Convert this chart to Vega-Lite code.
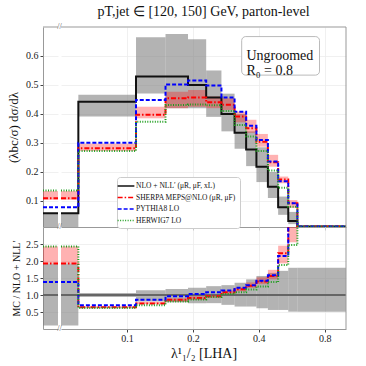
{
"$schema": "https://vega.github.io/schema/vega-lite/v6.json",
"padding": {"left": 7, "top": 5, "right": 5, "bottom": 4},
"datasets": {
"one": [{}],
"main": [
{"lo":0,"hi":0.06,"nlo":0.0575,"nlo_lo":0.005,"nlo_hi":0.058,"sh":0.109,"sh_lo":0.104,"sh_hi":0.134,"py":0.078,"hw":0.136},
{"lo":0.06,"hi":0.11,"nlo":0.442,"nlo_lo":0.391,"nlo_hi":0.466,"sh":0.282,"sh_lo":0.272,"sh_hi":0.297,"py":0.301,"hw":0.272},
{"lo":0.11,"hi":0.15,"nlo":0.529,"nlo_lo":0.471,"nlo_hi":0.665,"sh":0.397,"sh_lo":0.385,"sh_hi":0.425,"py":0.448,"hw":0.373},
{"lo":0.15,"hi":0.19,"nlo":0.529,"nlo_lo":0.42,"nlo_hi":0.676,"sh":0.454,"sh_lo":0.42,"sh_hi":0.477,"py":0.502,"hw":0.431},
{"lo":0.19,"hi":0.23,"nlo":0.5,"nlo_lo":0.42,"nlo_hi":0.658,"sh":0.457,"sh_lo":0.425,"sh_hi":0.483,"py":0.515,"hw":0.433},
{"lo":0.23,"hi":0.27,"nlo":0.457,"nlo_lo":0.39,"nlo_hi":0.55,"sh":0.44,"sh_lo":0.42,"sh_hi":0.46,"py":0.498,"hw":0.43},
{"lo":0.27,"hi":0.31,"nlo":0.4,"nlo_lo":0.34,"nlo_hi":0.47,"sh":0.432,"sh_lo":0.414,"sh_hi":0.454,"py":0.457,"hw":0.41},
{"lo":0.31,"hi":0.35,"nlo":0.335,"nlo_lo":0.28,"nlo_hi":0.4,"sh":0.391,"sh_lo":0.371,"sh_hi":0.408,"py":0.408,"hw":0.362},
{"lo":0.35,"hi":0.39,"nlo":0.277,"nlo_lo":0.22,"nlo_hi":0.34,"sh":0.351,"sh_lo":0.335,"sh_hi":0.38,"py":0.359,"hw":0.322},
{"lo":0.39,"hi":0.44,"nlo":0.218,"nlo_lo":0.165,"nlo_hi":0.285,"sh":0.304,"sh_lo":0.287,"sh_hi":0.331,"py":0.31,"hw":0.272},
{"lo":0.44,"hi":0.49,"nlo":0.149,"nlo_lo":0.11,"nlo_hi":0.2,"sh":0.233,"sh_lo":0.218,"sh_hi":0.259,"py":0.236,"hw":0.205},
{"lo":0.49,"hi":0.545,"nlo":0.078,"nlo_lo":0.052,"nlo_hi":0.115,"sh":0.174,"sh_lo":0.161,"sh_hi":0.184,"py":0.168,"hw":0.145},
{"lo":0.545,"hi":0.6,"nlo":0.031,"nlo_lo":0.02,"nlo_hi":0.062,"sh":0.092,"sh_lo":0.076,"sh_hi":0.103,"py":0.092,"hw":0.08},
{"lo":0.6,"hi":1.0,"nlo":0.012,"nlo_lo":0.012,"nlo_hi":0.012,"sh":0.012,"sh_lo":0.012,"sh_hi":0.012,"py":0.012,"hw":0.012},
{"lo":1.0,"hi":1.0,"nlo":0.012,"nlo_lo":0.012,"nlo_hi":0.012,"sh":0.012,"sh_lo":0.012,"sh_hi":0.012,"py":0.012,"hw":0.012}
],
"ratio": [
{"lo":0,"hi":0.06,"nlo_lo":0.1,"nlo_hi":1.93,"sh":1.93,"sh_lo":1.93,"sh_hi":2.43,"py":1.38,"hw":2.43},
{"lo":0.06,"hi":0.11,"nlo_lo":0.94,"nlo_hi":1.06,"sh":0.64,"sh_lo":0.62,"sh_hi":0.67,"py":0.7,"hw":0.615},
{"lo":0.11,"hi":0.15,"nlo_lo":0.81,"nlo_hi":1.14,"sh":0.75,"sh_lo":0.73,"sh_hi":0.8,"py":0.86,"hw":0.7},
{"lo":0.15,"hi":0.19,"nlo_lo":0.79,"nlo_hi":1.18,"sh":0.86,"sh_lo":0.8,"sh_hi":0.9,"py":0.96,"hw":0.81},
{"lo":0.19,"hi":0.23,"nlo_lo":0.76,"nlo_hi":1.21,"sh":0.91,"sh_lo":0.85,"sh_hi":0.96,"py":1.03,"hw":0.87},
{"lo":0.23,"hi":0.27,"nlo_lo":0.76,"nlo_hi":1.26,"sh":0.96,"sh_lo":0.92,"sh_hi":1.01,"py":1.08,"hw":0.94},
{"lo":0.27,"hi":0.31,"nlo_lo":0.71,"nlo_hi":1.29,"sh":1.08,"sh_lo":1.03,"sh_hi":1.13,"py":1.13,"hw":1.03},
{"lo":0.31,"hi":0.35,"nlo_lo":0.66,"nlo_hi":1.36,"sh":1.17,"sh_lo":1.11,"sh_hi":1.22,"py":1.21,"hw":1.08},
{"lo":0.35,"hi":0.39,"nlo_lo":0.66,"nlo_hi":1.46,"sh":1.27,"sh_lo":1.21,"sh_hi":1.37,"py":1.29,"hw":1.16},
{"lo":0.39,"hi":0.44,"nlo_lo":0.61,"nlo_hi":1.56,"sh":1.4,"sh_lo":1.32,"sh_hi":1.52,"py":1.42,"hw":1.25},
{"lo":0.44,"hi":0.49,"nlo_lo":0.56,"nlo_hi":1.65,"sh":1.56,"sh_lo":1.46,"sh_hi":1.74,"py":1.58,"hw":1.38},
{"lo":0.49,"hi":0.545,"nlo_lo":0.56,"nlo_hi":1.71,"sh":2.23,"sh_lo":1.93,"sh_hi":2.45,"py":2.15,"hw":1.88},
{"lo":0.545,"hi":0.6,"nlo_lo":0.51,"nlo_hi":1.8,"sh":3.1,"sh_lo":2.55,"sh_hi":3.3,"py":3.1,"hw":2.47},
{"lo":0.6,"hi":1.0,"nlo_lo":0.51,"nlo_hi":1.8,"sh":5,"sh_lo":5,"sh_hi":5,"py":5,"hw":5},
{"lo":1.0,"hi":1.0,"nlo_lo":0.51,"nlo_hi":1.8,"sh":5,"sh_lo":5,"sh_hi":5,"py":5,"hw":5}
]
},
"bounds": "flush",
"columns": 2,
"spacing": {"row": 0, "column": 3},
"concat": [
 {"width": 15, "height": 200, "data": {"name": "main"},
  "layer": [
   {"mark": {"type": "rect", "fill": "#808080", "opacity": 0.6, "clip": true},
    "encoding": {
     "x": {"field": "lo", "type": "quantitative", "scale": {"domain": [0, 0.05], "nice": false, "zero": false}, "axis": {"labels": false, "ticks": false, "grid": false, "domain": true, "title": null}},
     "x2": {"field": "hi"},
     "y": {"field": "nlo_lo", "type": "quantitative", "scale": {"domain": [0.01, 0.7], "nice": false, "zero": false}, "axis": {"values": [0.1,0.2,0.3,0.4,0.5,0.6], "tickCount": 20, "format": ".1f", "title": "(λbc/σ) dσ/dλ", "titleFontSize": 13, "titlePadding": 5, "grid": true}},
     "y2": {"field": "nlo_hi"}}},
   {"mark": {"type": "rect", "fill": "red", "opacity": 0.3, "clip": true},
    "encoding": {
     "x": {"field": "lo", "type": "quantitative", "scale": {"domain": [0, 0.05], "nice": false, "zero": false}},
     "x2": {"field": "hi"},
     "y": {"field": "sh_lo", "type": "quantitative", "scale": {"domain": [0.01, 0.7], "nice": false, "zero": false}},
     "y2": {"field": "sh_hi"}}},
   {"transform": [{"fold": ["nlo","sh","py","hw"], "as": ["series","v"]}],
    "mark": {"type": "line", "interpolate": "step-after", "clip": true},
    "encoding": {
     "x": {"field": "lo", "type": "quantitative", "scale": {"domain": [0, 0.05], "nice": false, "zero": false}},
     "y": {"field": "v", "type": "quantitative", "scale": {"domain": [0.01, 0.7], "nice": false, "zero": false}},
     "color": {"field": "series", "type": "nominal", "scale": {"domain": ["nlo","sh","py","hw"], "range": ["#111111","#ff0000","#0000ff","#1f9e1f"]}, "legend": {"title": null, "orient": "none", "legendX": 74, "legendY": 150, "labelExpr": "datum.label == 'nlo' ? 'NLO + NLL′ (μR, μF, xL)' : datum.label == 'sh' ? 'SHERPA MEPS@NLO (μR, μF)' : datum.label == 'py' ? 'PYTHIA8 LO' : 'HERWIG7 LO'"}},
     "strokeDash": {"field": "series", "type": "nominal", "scale": {"domain": ["nlo","sh","py","hw"], "range": [[1,0],[5,2,1.5,2],[4,2],[1,1.5]]}, "legend": {"title": null, "orient": "none", "legendX": 74, "legendY": 150, "labelExpr": "datum.label == 'nlo' ? 'NLO + NLL′ (μR, μF, xL)' : datum.label == 'sh' ? 'SHERPA MEPS@NLO (μR, μF)' : datum.label == 'py' ? 'PYTHIA8 LO' : 'HERWIG7 LO'"}}}},
   {"data": {"name": "one"}, "mark": {"type": "rule", "color": "#999999"}, "encoding": {"y": {"datum": 0.7}}}
  ]},
 {"width": 285, "height": 200, "data": {"name": "main"},
  "title": {"text": "pT,jet ∈ [120, 150] GeV, parton-level", "fontSize": 14, "fontWeight": "normal", "font": "Liberation Serif", "anchor": "middle", "offset": 4, "color": "#111111"},
  "layer": [
   {"mark": {"type": "rect", "fill": "#808080", "opacity": 0.6, "clip": true},
    "encoding": {
     "x": {"field": "lo", "type": "quantitative", "scale": {"type": "log", "domain": [0.05, 1], "nice": false, "clamp": true}, "axis": {"labels": false, "ticks": true, "values": [0.1,0.2,0.4,0.8], "tickCount": 20, "grid": true, "domain": true, "title": null}},
     "x2": {"field": "hi"},
     "y": {"field": "nlo_lo", "type": "quantitative", "scale": {"domain": [0.01, 0.7], "nice": false, "zero": false}, "axis": {"labels": false, "ticks": false, "domain": false, "grid": true, "values": [0.1,0.2,0.3,0.4,0.5,0.6], "tickCount": 20, "title": null}},
     "y2": {"field": "nlo_hi"}}},
   {"mark": {"type": "rect", "fill": "red", "opacity": 0.3, "clip": true},
    "encoding": {
     "x": {"field": "lo", "type": "quantitative", "scale": {"type": "log", "domain": [0.05, 1], "nice": false, "clamp": true}},
     "x2": {"field": "hi"},
     "y": {"field": "sh_lo", "type": "quantitative", "scale": {"domain": [0.01, 0.7], "nice": false, "zero": false}},
     "y2": {"field": "sh_hi"}}},
   {"transform": [{"fold": ["nlo","sh","py","hw"], "as": ["series","v"]}],
    "mark": {"type": "line", "interpolate": "step-after", "clip": true},
    "encoding": {
     "x": {"field": "lo", "type": "quantitative", "scale": {"type": "log", "domain": [0.05, 1], "nice": false, "clamp": true}},
     "y": {"field": "v", "type": "quantitative", "scale": {"domain": [0.01, 0.7], "nice": false, "zero": false}},
     "color": {"field": "series", "type": "nominal", "scale": {"domain": ["nlo","sh","py","hw"], "range": ["#111111","#ff0000","#0000ff","#1f9e1f"]}, "legend": {"title": null, "orient": "none", "legendX": 74, "legendY": 150, "labelExpr": "datum.label == 'nlo' ? 'NLO + NLL′ (μR, μF, xL)' : datum.label == 'sh' ? 'SHERPA MEPS@NLO (μR, μF)' : datum.label == 'py' ? 'PYTHIA8 LO' : 'HERWIG7 LO'"}},
     "strokeDash": {"field": "series", "type": "nominal", "scale": {"domain": ["nlo","sh","py","hw"], "range": [[1,0],[5,2,1.5,2],[4,2],[1,1.5]]}, "legend": {"title": null, "orient": "none", "legendX": 74, "legendY": 150, "labelExpr": "datum.label == 'nlo' ? 'NLO + NLL′ (μR, μF, xL)' : datum.label == 'sh' ? 'SHERPA MEPS@NLO (μR, μF)' : datum.label == 'py' ? 'PYTHIA8 LO' : 'HERWIG7 LO'"}}}},
   {"data": {"name": "one"}, "mark": {"type": "rule", "color": "#999999"}, "encoding": {"y": {"datum": 0.7}}},
   {"data": {"name": "one"}, "mark": {"type": "rule", "color": "#999999"}, "encoding": {"x": {"datum": 1.0}}},
   {"data": {"name": "one"}, "mark": {"type": "rect", "fill": "white", "stroke": "#aaaaaa", "strokeWidth": 0.8, "cornerRadius": 4},
    "encoding": {"x": {"datum": 0.334}, "x2": {"datum": 0.757}, "y": {"datum": 0.667}, "y2": {"datum": 0.534}}},
   {"data": {"name": "one"}, "mark": {"type": "text", "text": ["Ungroomed", "R₀ = 0.8"], "align": "left", "baseline": "middle", "fontSize": 14, "lineHeight": 15, "font": "Liberation Serif", "fontWeight": "normal", "color": "#111111"},
    "encoding": {"x": {"datum": 0.351}, "y": {"datum": 0.6}}},
   {"data": {"name": "one"}, "mark": {"type": "text", "text": "//", "fontSize": 8, "dx": -1.5, "color": "#555555", "clip": false},
    "encoding": {"x": {"datum": 0.05}, "y": {"datum": 0.7}}},
   {"data": {"name": "one"}, "mark": {"type": "text", "text": "//", "fontSize": 8, "dx": -1.5, "color": "#555555", "clip": false},
    "encoding": {"x": {"datum": 0.05}, "y": {"datum": 0.01}}}
  ]},
 {"width": 15, "height": 102, "data": {"name": "ratio"},
  "layer": [
   {"mark": {"type": "rect", "fill": "#808080", "opacity": 0.6, "clip": true},
    "encoding": {
     "x": {"field": "lo", "type": "quantitative", "scale": {"domain": [0, 0.05], "nice": false, "zero": false}, "axis": {"labels": false, "ticks": false, "grid": false, "domain": true, "title": null}},
     "x2": {"field": "hi"},
     "y": {"field": "nlo_lo", "type": "quantitative", "scale": {"domain": [0, 3], "nice": false, "zero": false}, "axis": {"values": [0.5,1,1.5,2,2.5], "tickCount": 20, "format": ".1f", "title": "MC / NLO + NLL′", "titleFontSize": 10, "titlePadding": 4, "grid": true}},
     "y2": {"field": "nlo_hi"}}},
   {"mark": {"type": "rect", "fill": "red", "opacity": 0.3, "clip": true},
    "encoding": {
     "x": {"field": "lo", "type": "quantitative", "scale": {"domain": [0, 0.05], "nice": false, "zero": false}},
     "x2": {"field": "hi"},
     "y": {"field": "sh_lo", "type": "quantitative", "scale": {"domain": [0, 3], "nice": false, "zero": false}},
     "y2": {"field": "sh_hi"}}},
   {"data": {"name": "one"}, "mark": {"type": "rule", "color": "#666666", "strokeWidth": 2}, "encoding": {"y": {"datum": 1}}},
   {"transform": [{"fold": ["sh","py","hw"], "as": ["series","v"]}],
    "mark": {"type": "line", "interpolate": "step-after", "clip": true},
    "encoding": {
     "x": {"field": "lo", "type": "quantitative", "scale": {"domain": [0, 0.05], "nice": false, "zero": false}},
     "y": {"field": "v", "type": "quantitative", "scale": {"domain": [0, 3], "nice": false, "zero": false}},
     "color": {"field": "series", "type": "nominal", "scale": {"domain": ["nlo","sh","py","hw"], "range": ["#111111","#ff0000","#0000ff","#1f9e1f"]}, "legend": {"title": null, "orient": "none", "legendX": 74, "legendY": 150, "labelExpr": "datum.label == 'nlo' ? 'NLO + NLL′ (μR, μF, xL)' : datum.label == 'sh' ? 'SHERPA MEPS@NLO (μR, μF)' : datum.label == 'py' ? 'PYTHIA8 LO' : 'HERWIG7 LO'"}},
     "strokeDash": {"field": "series", "type": "nominal", "scale": {"domain": ["nlo","sh","py","hw"], "range": [[1,0],[5,2,1.5,2],[4,2],[1,1.5]]}, "legend": {"title": null, "orient": "none", "legendX": 74, "legendY": 150, "labelExpr": "datum.label == 'nlo' ? 'NLO + NLL′ (μR, μF, xL)' : datum.label == 'sh' ? 'SHERPA MEPS@NLO (μR, μF)' : datum.label == 'py' ? 'PYTHIA8 LO' : 'HERWIG7 LO'"}}}}
  ]},
 {"width": 285, "height": 102, "data": {"name": "ratio"},
  "layer": [
   {"mark": {"type": "rect", "fill": "#808080", "opacity": 0.6, "clip": true},
    "encoding": {
     "x": {"field": "lo", "type": "quantitative", "scale": {"type": "log", "domain": [0.05, 1], "nice": false, "clamp": true}, "axis": {"values": [0.1,0.2,0.4,0.8], "tickCount": 20, "format": ".1f", "grid": true, "domain": true, "title": "λ¹₁/₂ [LHA]", "titleFontSize": 14, "titlePadding": 3, "labelPadding": 1}},
     "x2": {"field": "hi"},
     "y": {"field": "nlo_lo", "type": "quantitative", "scale": {"domain": [0, 3], "nice": false, "zero": false}, "axis": {"labels": false, "ticks": false, "domain": false, "grid": true, "values": [0.5,1,1.5,2,2.5], "tickCount": 20, "title": null}},
     "y2": {"field": "nlo_hi"}}},
   {"mark": {"type": "rect", "fill": "red", "opacity": 0.3, "clip": true},
    "encoding": {
     "x": {"field": "lo", "type": "quantitative", "scale": {"type": "log", "domain": [0.05, 1], "nice": false, "clamp": true}},
     "x2": {"field": "hi"},
     "y": {"field": "sh_lo", "type": "quantitative", "scale": {"domain": [0, 3], "nice": false, "zero": false}},
     "y2": {"field": "sh_hi"}}},
   {"data": {"name": "one"}, "mark": {"type": "rule", "color": "#666666", "strokeWidth": 2}, "encoding": {"y": {"datum": 1}}},
   {"transform": [{"fold": ["sh","py","hw"], "as": ["series","v"]}],
    "mark": {"type": "line", "interpolate": "step-after", "clip": true},
    "encoding": {
     "x": {"field": "lo", "type": "quantitative", "scale": {"type": "log", "domain": [0.05, 1], "nice": false, "clamp": true}},
     "y": {"field": "v", "type": "quantitative", "scale": {"domain": [0, 3], "nice": false, "zero": false}},
     "color": {"field": "series", "type": "nominal", "scale": {"domain": ["nlo","sh","py","hw"], "range": ["#111111","#ff0000","#0000ff","#1f9e1f"]}, "legend": {"title": null, "orient": "none", "legendX": 74, "legendY": 150, "labelExpr": "datum.label == 'nlo' ? 'NLO + NLL′ (μR, μF, xL)' : datum.label == 'sh' ? 'SHERPA MEPS@NLO (μR, μF)' : datum.label == 'py' ? 'PYTHIA8 LO' : 'HERWIG7 LO'"}},
     "strokeDash": {"field": "series", "type": "nominal", "scale": {"domain": ["nlo","sh","py","hw"], "range": [[1,0],[5,2,1.5,2],[4,2],[1,1.5]]}, "legend": {"title": null, "orient": "none", "legendX": 74, "legendY": 150, "labelExpr": "datum.label == 'nlo' ? 'NLO + NLL′ (μR, μF, xL)' : datum.label == 'sh' ? 'SHERPA MEPS@NLO (μR, μF)' : datum.label == 'py' ? 'PYTHIA8 LO' : 'HERWIG7 LO'"}}}},
   {"data": {"name": "one"}, "mark": {"type": "rule", "color": "#999999"}, "encoding": {"x": {"datum": 1.0}}},
   {"data": {"name": "one"}, "mark": {"type": "text", "text": "//", "fontSize": 8, "dx": -1.5, "color": "#555555", "clip": false},
    "encoding": {"x": {"datum": 0.05}, "y": {"datum": 0}}}
  ]}
],
"config": {
 "view": {"stroke": null},
 "font": "Liberation Serif",
 "axis": {"labelFont": "Liberation Serif", "titleFont": "Liberation Serif", "labelFontSize": 10, "labelColor": "#222222", "titleColor": "#111111", "titleFontWeight": "normal", "gridColor": "#ececec", "gridWidth": 0.8, "domainColor": "#999999", "tickColor": "#444444", "tickSize": 3, "labelPadding": 2},
 "legend": {"labelFont": "Liberation Serif", "labelFontSize": 7.5, "labelColor": "#111111", "symbolSize": 70, "symbolStrokeWidth": 1.5, "symbolType": "M-2,0H2", "padding": 4, "rowPadding": 2.5, "labelOffset": 5, "fillColor": "white", "strokeColor": "#cccccc", "cornerRadius": 3}
}
}
